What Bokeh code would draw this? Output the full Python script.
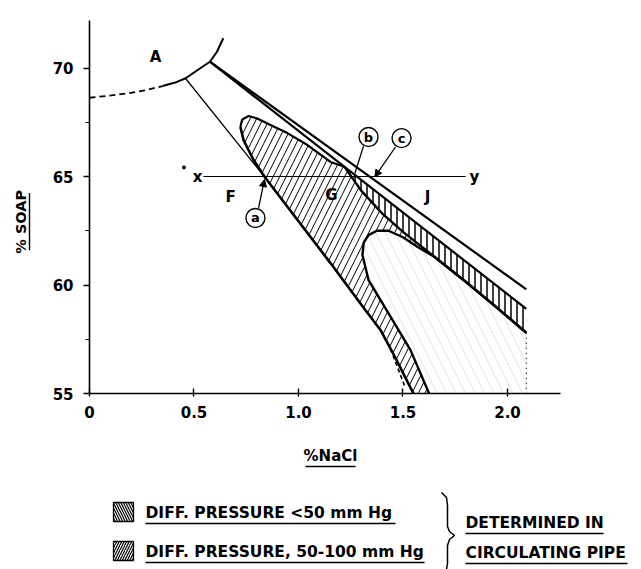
import math
from bokeh.plotting import figure
from bokeh.models import Range1d, FixedTicker, Arrow, NormalHead
from bokeh.layouts import column, row
from bokeh.core.properties import value
from bokeh.embed import file_html
from bokeh.resources import INLINE

FONT = "DejaVu Sans"

# ---------------- axes ----------------
x_ticks = [0, 0.5, 1.0, 1.5, 2.0]
x_tick_labels = ["0", "0.5", "1.0", "1.5", "2.0"]
y_ticks = [55, 60, 65, 70]
y_minor_ticks = [57.5, 62.5, 67.5]
y_tick_labels = ["55", "60", "65", "70"]
x_label = "%NaCl"
y_label = "% SOAP"

# ---------------- boundaries (%NaCl, %SOAP) ----------------
# boundary of region A (dashed part, then solid)
arc_dash_x = [0.0, 0.09, 0.18, 0.27, 0.35]
arc_dash_y = [68.63, 68.72, 68.83, 68.98, 69.17]
arc_x = [0.35, 0.41, 0.46, 0.53, 0.576, 0.61, 0.64]
arc_y = [69.17, 69.33, 69.53, 69.99, 70.29, 70.75, 71.37]

# left straight boundary (solid, then dashed)
left_x = [0.459, 0.842, 1.153, 1.30, 1.392, 1.44]
left_y = [69.53, 64.93, 61.01, 59.1, 57.93, 57.05]
left_dash_x = [1.44, 1.512]
left_dash_y = [57.05, 55.25]

# two right-hand boundaries
outer_x = [0.576, 2.09]
outer_y = [70.29, 59.8]
inner_x = [0.576, 2.09]
inner_y = [70.29, 58.9]

# 50-100 mm Hg region: upper edge from tip, left edge from tip down
r1_top_x = [0.722, 0.73, 0.761, 0.80, 0.866, 0.947, 1.043, 1.153, 1.22]
r1_top_y = [67.28, 67.62, 67.79, 67.68, 67.37, 67.0, 66.45, 65.67, 65.45]
r1_left_x = [0.722, 0.737, 0.785, 0.842, 1.153, 1.30, 1.392, 1.45, 1.50, 1.55]
r1_left_y = [67.28, 66.68, 65.76, 64.93, 61.01, 59.1, 57.93, 56.9, 55.95, 55.0]

# <50 mm Hg band: upper edge (on inner line) and lower edge
band_top_x = [1.22, 2.09]
band_top_y = [65.45, 58.9]
band_bot_x = [1.22, 1.30, 1.40, 1.50, 1.65, 1.80, 1.95, 2.09]
band_bot_y = [65.45, 64.35, 63.3, 62.45, 61.3, 60.15, 58.95, 57.8]

# inner (undetermined) tongue
tongue_x = [1.625, 1.536, 1.464, 1.392, 1.335, 1.306, 1.312, 1.335, 1.375, 1.43, 1.50, 1.57, 1.65, 1.80, 1.95, 2.09]
tongue_y = [55.0, 57.0, 58.16, 59.31, 60.23, 61.38, 61.95, 62.3, 62.5, 62.5, 62.2, 61.75, 61.3, 60.15, 58.95, 57.8]
tongue_edge_x = [2.09, 2.09]
tongue_edge_y = [57.8, 55.0]

# section line x-y at 65 % soap
xy_x = [0.545, 1.80]
xy_y = [65.0, 65.0]

# letters
letter_text = ["A", "x", "y", "F", "G", "J"]
letter_x = [0.316, 0.517, 1.842, 0.675, 1.158, 1.617]
letter_y = [70.5, 64.98, 64.98, 64.06, 64.15, 64.06]
dot_x = [0.452]
dot_y = [65.42]

# circled points a, b, c
circ_text = ["a", "b", "c"]
circ_x = [0.794, 1.335, 1.493]
circ_y = [63.09, 66.82, 66.77]
ptr_x0 = [0.809, 1.311, 1.464]
ptr_y0 = [63.55, 66.40, 66.36]
ptr_x1 = [0.837, 1.27, 1.365]
ptr_y1 = [64.86, 65.15, 64.98]
ptr_head = [True, False, True]

# legend
legend_labels = ["DIFF. PRESSURE <50 mm Hg", "DIFF. PRESSURE, 50-100 mm Hg"]
legend_hatch = ["\\", "/"]
note_labels = ["DETERMINED IN", "CIRCULATING PIPE"]

# ================= main plot =================
p = figure(width=596, height=430, x_range=Range1d(0, 2.2536), y_range=Range1d(55, 72.19),
           output_backend="svg", toolbar_location=None,
           min_border_left=44, min_border_right=81, min_border_top=20, min_border_bottom=37)
p.outline_line_color = None
p.grid.visible = False
p.background_fill_color = "white"
p.border_fill_color = "white"

for ax in (p.xaxis[0], p.yaxis[0]):
    ax.axis_line_width = 1.6
    ax.axis_line_color = "black"
    ax.major_tick_line_width = 1.4
    ax.minor_tick_line_width = 1.2
    ax.major_label_text_font = FONT
    ax.major_label_text_font_style = "bold"
    ax.major_label_text_font_size = "15px"
    ax.major_label_text_color = "black"

p.xaxis.ticker = FixedTicker(ticks=x_ticks, minor_ticks=[])
p.xaxis.major_label_overrides = {t: l for t, l in zip(x_ticks, x_tick_labels)}
p.xaxis.major_tick_in = 5
p.xaxis.major_tick_out = 3
p.xaxis.major_label_standoff = 9

p.yaxis.ticker = FixedTicker(ticks=y_ticks, minor_ticks=y_minor_ticks)
p.yaxis.major_label_overrides = {t: l for t, l in zip(y_ticks, y_tick_labels)}
p.yaxis.major_tick_in = 0
p.yaxis.major_tick_out = 6
p.yaxis.minor_tick_in = 0
p.yaxis.minor_tick_out = 4
p.yaxis.major_label_standoff = 10

# region 50-100 (hatched /)
r1_x = r1_top_x + [inner_x[1], inner_x[1]] + r1_left_x[::-1]
r1_y = r1_top_y + [inner_y[1], 55.0] + r1_left_y[::-1]
p.patch(r1_x, r1_y, fill_color="white", line_color=None,
        hatch_pattern="/", hatch_color="black", hatch_scale=13, hatch_weight=1.0)

# tongue (white, faint lines)
p.patch(tongue_x + [2.09], tongue_y + [55.0], fill_color="white", line_color=None,
        hatch_pattern="\\", hatch_color="black", hatch_alpha=0.22, hatch_scale=19, hatch_weight=0.5)

# band <50 (rungs)
band_x = band_top_x + band_bot_x[::-1]
band_y = band_top_y + band_bot_y[::-1]
p.patch(band_x, band_y, fill_color="white", line_color=None,
        hatch_pattern="|", hatch_color="black", hatch_scale=6, hatch_weight=1.5)

# outlines
p.line(r1_top_x, r1_top_y, line_color="black", line_width=2.2)
p.line(r1_left_x, r1_left_y, line_color="black", line_width=2.6)
p.line(left_x, left_y, line_color="black", line_width=1.3)
p.line(left_dash_x, left_dash_y, line_color="black", line_width=1.6, line_dash="4 3")
p.line(arc_dash_x, arc_dash_y, line_color="black", line_width=1.8, line_dash="6 4")
p.line(arc_x, arc_y, line_color="black", line_width=2.0)
p.line(outer_x, outer_y, line_color="black", line_width=2.2)
p.line(inner_x, inner_y, line_color="black", line_width=2.2)
p.line(band_bot_x, band_bot_y, line_color="black", line_width=2.4)
p.line(tongue_x, tongue_y, line_color="black", line_width=2.4)
p.line(tongue_edge_x, tongue_edge_y, line_color="black", line_width=1.2, line_dash="1 4")
p.line(xy_x, xy_y, line_color="black", line_width=1.1)

# pointers
for i in range(len(circ_text)):
    if ptr_head[i]:
        p.add_layout(Arrow(end=NormalHead(size=7, fill_color="black", line_color="black"),
                           x_start=ptr_x0[i], y_start=ptr_y0[i], x_end=ptr_x1[i], y_end=ptr_y1[i],
                           line_width=1.3, line_color="black"))
    else:
        p.segment(x0=[ptr_x0[i]], y0=[ptr_y0[i]], x1=[ptr_x1[i]], y1=[ptr_y1[i]],
                  line_color="black", line_width=1.3)

p.scatter(circ_x, circ_y, marker="circle", size=19, fill_color="white", line_color="black", line_width=1.4)
p.text(circ_x, circ_y, text=circ_text, text_font=value(FONT), text_font_style="bold",
       text_font_size="13px", text_align="center", text_baseline="middle")

p.text(letter_x, letter_y, text=letter_text, text_font=value(FONT), text_font_style="bold",
       text_font_size="15px", text_align="center", text_baseline="middle")
p.scatter(dot_x, dot_y, marker="circle", size=3, fill_color="black", line_color="black")

# ================= y label strip =================
yl = figure(width=45, height=430, x_range=Range1d(0, 45), y_range=Range1d(430, 0),
            output_backend="svg", toolbar_location=None, min_border=0,
            x_axis_location=None, y_axis_location=None)
yl.outline_line_color = None
yl.grid.visible = False
yl.text([20], [232], text=[y_label], angle=math.pi / 2, text_font=value(FONT),
        text_font_style="bold", text_font_size="14.5px", text_align="center", text_baseline="middle")
yl.segment(x0=[29], y0=[199], x1=[29], y1=[265], line_color="black", line_width=1.4)

# ================= x label + legend strip =================
lg = figure(width=641, height=139, x_range=Range1d(0, 641), y_range=Range1d(569, 430),
            output_backend="svg", toolbar_location=None, min_border=0,
            x_axis_location=None, y_axis_location=None)
lg.outline_line_color = None
lg.grid.visible = False

lg.text([330], [455], text=[x_label], text_font=value(FONT), text_font_style="bold",
        text_font_size="15px", text_align="center", text_baseline="middle")
lg.segment(x0=[305], y0=[466], x1=[355], y1=[466], line_color="black", line_width=1.4)

row_y = [512, 551]
lg.quad(left=[113, 113], right=[133, 133], top=[y - 10 for y in row_y], bottom=[y + 9 for y in row_y],
        fill_color="white", line_color="black", line_width=1.3,
        hatch_pattern=legend_hatch, hatch_color="black", hatch_scale=5, hatch_weight=1.2)
lg.text([145, 145], row_y, text=legend_labels, text_font=value(FONT), text_font_style="bold",
        text_font_size="15.5px", text_align="left", text_baseline="middle")
lg.segment(x0=[145, 145], y0=[y + 11 for y in row_y], x1=[395, 424], y1=[y + 11 for y in row_y],
           line_color="black", line_width=1.4)

note_y = [522, 552]
lg.text([465, 465], note_y, text=note_labels, text_font=value(FONT), text_font_style="bold",
        text_font_size="15.5px", text_align="left", text_baseline="middle")
lg.segment(x0=[465, 465], y0=[y + 11 for y in note_y], x1=[603, 627], y1=[y + 11 for y in note_y],
           line_color="black", line_width=1.4)

# brace
lg.line([441, 446, 447, 447, 449, 454, 449, 447, 447, 446],
        [492, 497, 505, 526, 531, 535, 539, 545, 563, 569], line_color="black", line_width=1.5)

layout = column(row(yl, p), lg)
open("out.html", "w").write(file_html(layout, INLINE))
